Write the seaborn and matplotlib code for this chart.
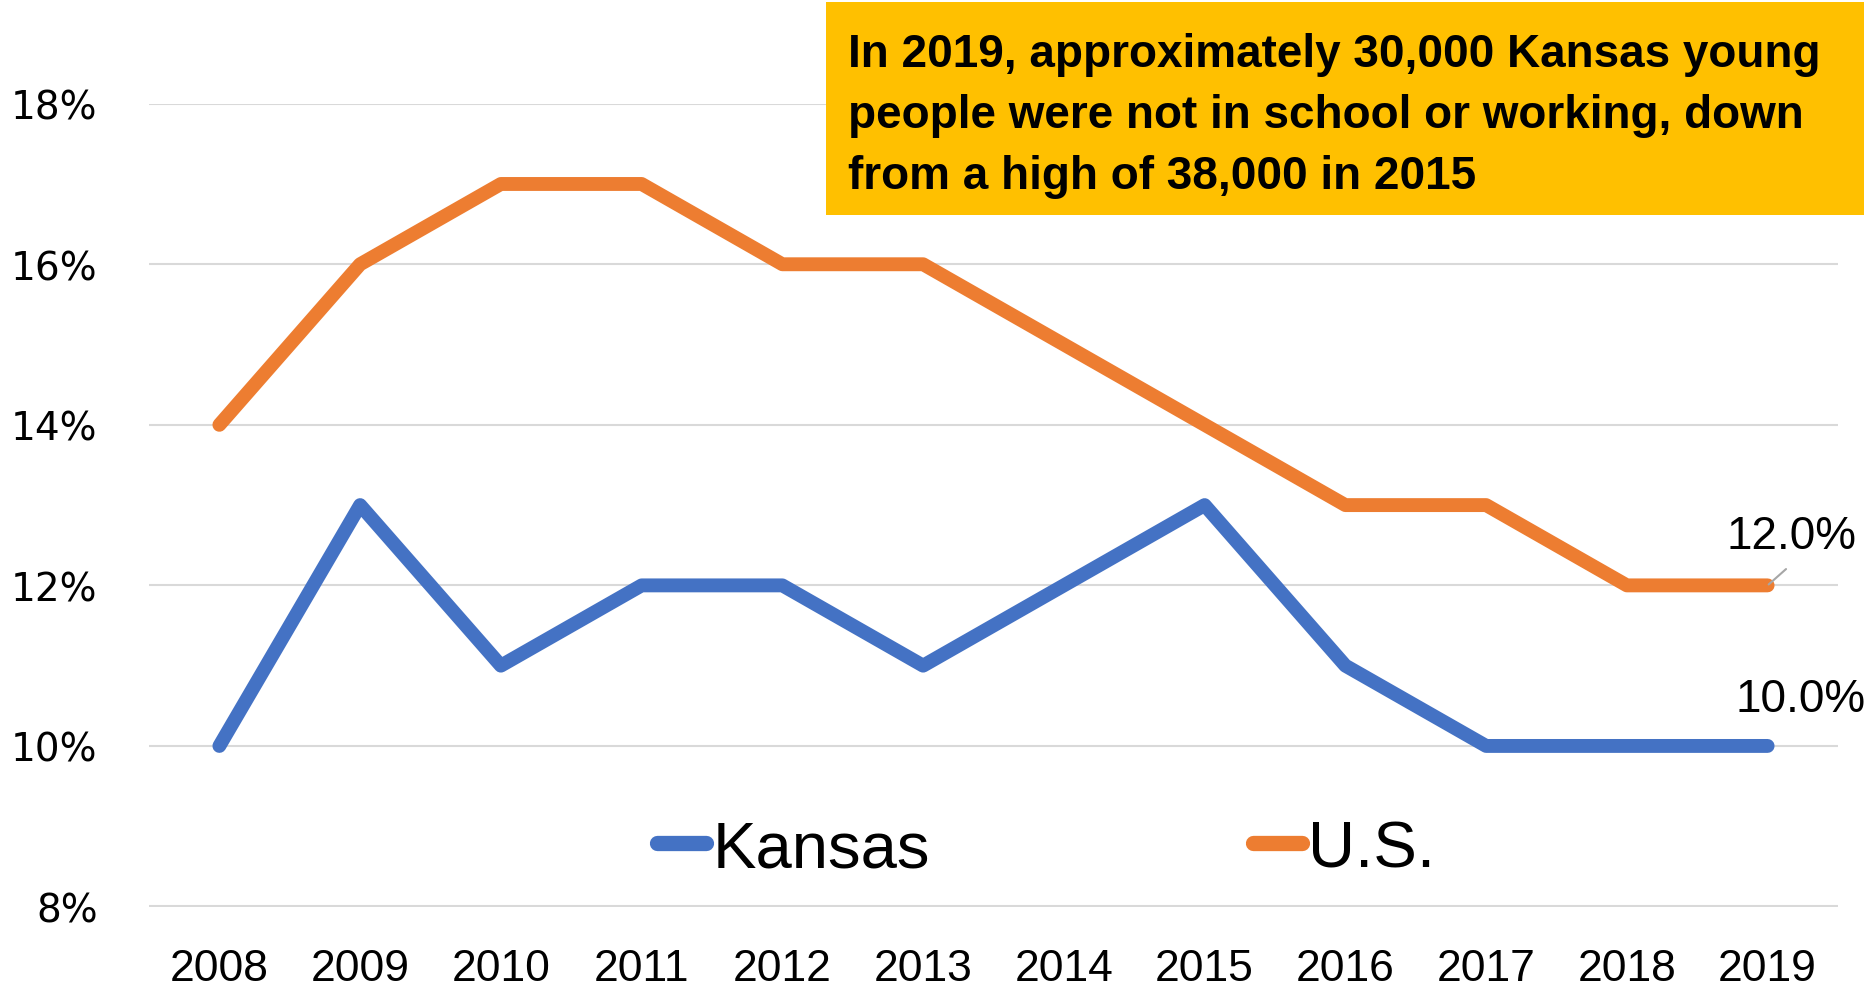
import numpy as np
import pandas as pd
import seaborn as sns
import matplotlib.pyplot as plt
from matplotlib.lines import Line2D
from matplotlib.patches import Rectangle

years = [2008, 2009, 2010, 2011, 2012, 2013, 2014, 2015, 2016, 2017, 2018, 2019]
kansas = [10, 13, 11, 12, 12, 11, 12, 13, 11, 10, 10, 10]
us = [14, 16, 17, 17, 16, 16, 15, 14, 13, 13, 12, 12]
series_names = ["Kansas", "U.S."]
series_colors = ["#4472C4", "#ED7D31"]
y_ticks = [8, 10, 12, 14, 16, 18]
note = ("In 2019, approximately 30,000 Kansas young\n"
        "people were not in school or working, down\n"
        "from a high of 38,000 in 2015")

sns.set_style("white")
plt.rcParams["font.family"] = ["DejaVu Sans"]
narrow = "Liberation Sans"

df = pd.DataFrame({
    "idx": list(range(len(years))) * 2,
    "value": kansas + us,
    "series": [series_names[0]] * len(years) + [series_names[1]] * len(years),
})

fig = plt.figure(figsize=(18.65, 9.95), dpi=100)
ax = fig.add_axes([149 / 1865, 1 - 907.5 / 995, (1838 - 149) / 1865, (907.5 - 104.7) / 995])

sns.lineplot(data=df, x="idx", y="value", hue="series", palette=series_colors,
             linewidth=10, ax=ax, legend=False)
for ln in ax.lines:
    ln.set_solid_capstyle("round")
    ln.set_solid_joinstyle("round")
    ln.set_clip_on(False)

ax.set_xlim(-0.5, len(years) - 0.5)
ax.set_ylim(8, 18)
ax.set_yticks(y_ticks)
ax.set_yticklabels([f"{t}%" for t in y_ticks], fontsize=28, family="DejaVu Sans", color="black")
ax.set_xticks(range(len(years)))
ax.set_xticklabels([str(y) for y in years], fontsize=32, family=narrow, color="black")
ax.tick_params(axis="y", length=0, pad=37)
ax.tick_params(axis="x", length=0, pad=30)
ax.set_xlabel("")
ax.set_ylabel("")
for s in ax.spines.values():
    s.set_visible(False)
ax.grid(axis="y", color="#d9d9d9", linewidth=1.5)
ax.set_axisbelow(True)

# end labels
last = len(years) - 1
ax.annotate(f"{us[-1]:.1f}%", xy=(last, us[-1]), xytext=(last + 0.17, us[-1] + 0.61),
            ha="center", va="center", fontsize=33, family=narrow, color="black",
            annotation_clip=False, zorder=5,
            arrowprops=dict(arrowstyle="-", color="#a6a6a6", lw=1.5, relpos=(0.55, 0),
                            shrinkA=8, shrinkB=1))
ax.annotate(f"{kansas[-1]:.1f}%", xy=(last, kansas[-1]), xytext=(last + 0.235, kansas[-1] + 0.58),
            ha="center", va="center", fontsize=33, family=narrow, color="black",
            annotation_clip=False)

# legend
handles = [Line2D([], [], color=c, linewidth=11, solid_capstyle="round") for c in series_colors]
fig.legend(handles, series_names, loc="center", bbox_to_anchor=(1046 / 1865, 1 - 850 / 995),
           ncol=2, frameon=False, handlelength=0.75, handletextpad=0.1, columnspacing=4.95,
           prop={"family": narrow, "size": 47}, labelcolor="black")

# highlighted note
fig.patches.append(Rectangle((826 / 1865, 1 - 216 / 995), 1 - 826 / 1865, 213 / 995,
                             transform=fig.transFigure, facecolor="#FFC000",
                             edgecolor="none", zorder=5))
fig.text(848 / 1865, 1 - 33 / 995, note, ha="left", va="top", fontsize=33,
         fontweight="bold", family=narrow, color="black", linespacing=1.5, zorder=6)

fig.savefig("out.png", dpi=100, facecolor="white")
